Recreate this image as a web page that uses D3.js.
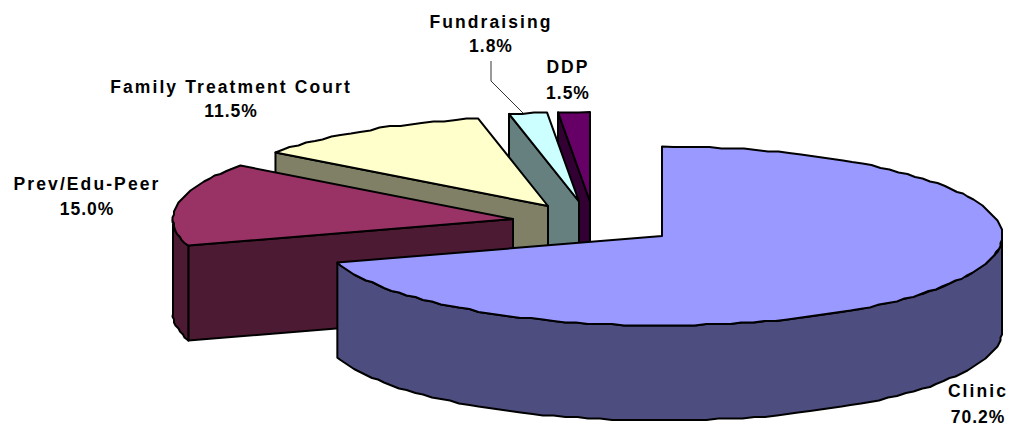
<!DOCTYPE html>
<html><head><meta charset="utf-8">
<script src="https://cdn.jsdelivr.net/npm/d3@7/dist/d3.min.js"></script>
<style>html,body{margin:0;padding:0;background:#fff}svg{display:block}</style>
</head><body>
<script>
const categories = ["Clinic","Prev/Edu-Peer","Family Treatment Court","Fundraising","DDP"];
const shares = [70.2,15.0,11.5,1.8,1.5];
const topColors = ["#9999FF","#993366","#FFFFCC","#CCFFFF","#660066"];
const wallColors = ["#4D4D80","#4D1A33","#808066","#668080","#330033"];
// explosion: where each wedge's apex lands on the page
const apexX = [662,513,548,579,590];
const apexY = [236,219,206,201.5,201.5];
const labelX = [978,87,231,491,568];
const labelY = [397,190,93,28,73];
const valueY = [423,215,117,52,99];

const W=1011,H=426,rx=340,ry=89.5,depth=95;
const svg=d3.select("body").append("svg").attr("width",W).attr("height",H);
const pie=d3.pie().sort(null).value(d=>d)(shares);
const px=d3.scaleLinear().domain([-1,1]).range([-rx,rx]);
const py=d3.scaleLinear().domain([-1,1]).range([ry,-ry]);
const snap=v=>Math.round(v/1.5)*1.5;
const line=d3.line();
function rim(i,a0,a1,dz){
  const n=Math.max(1,Math.round((a1-a0)/(Math.PI/90))),pts=[];
  for(let k=0;k<=n;k++){
    const a=a0+(a1-a0)*k/n;
    const x=apexX[i]+px(Math.sin(a)),y=apexY[i]+py(Math.cos(a))+dz;
    pts.push(k===0||k===n?[x,y]:[snap(x),snap(y)]);
  }
  return pts;
}
const order=d3.range(shares.length).reverse();
const g=svg.append("g").attr("stroke","#000").attr("stroke-width",2).attr("stroke-linejoin","round");
function poly(pts,fill){g.append("path").attr("d",line(pts)+"Z").attr("fill",fill);}
order.forEach(i=>{
  const s=pie[i],a0=s.startAngle,a1=s.endAngle;
  const ax=apexX[i],ay=apexY[i];
  if(i>0){
    const p=rim(i,a0,a0,0)[0];
    poly([[ax,ay],p,[p[0],p[1]+depth],[ax,ay+depth]],wallColors[i]);
  }
  const lo=Math.max(a0,Math.PI/2),hi=Math.min(a1,3*Math.PI/2);
  if(hi>lo){
    const t=rim(i,lo,hi,0),b=rim(i,lo,hi,depth).reverse();
    poly(t.concat(b),wallColors[i]);
  }
  poly([[ax,ay]].concat(rim(i,a0,a1,0)),topColors[i]);
});
// leader line for Fundraising
const leader=[[491,61],[491,81],[524,114]];
svg.append("path").attr("d",line(leader)).attr("fill","none").attr("stroke","#000").attr("stroke-width",0.8);
const t=svg.append("g").attr("font-family","'Liberation Sans',Arial,sans-serif").attr("font-weight","bold")
 .attr("font-size",17.5).attr("text-anchor","middle").attr("fill","#000");
categories.forEach((c,i)=>{
  t.append("text").attr("x",labelX[i]).attr("y",labelY[i]).attr("letter-spacing",2.1).text(c);
  t.append("text").attr("x",labelX[i]).attr("y",valueY[i]).attr("letter-spacing",1).text(d3.format(".1f")(shares[i])+"%");
});
</script>
</body></html>
